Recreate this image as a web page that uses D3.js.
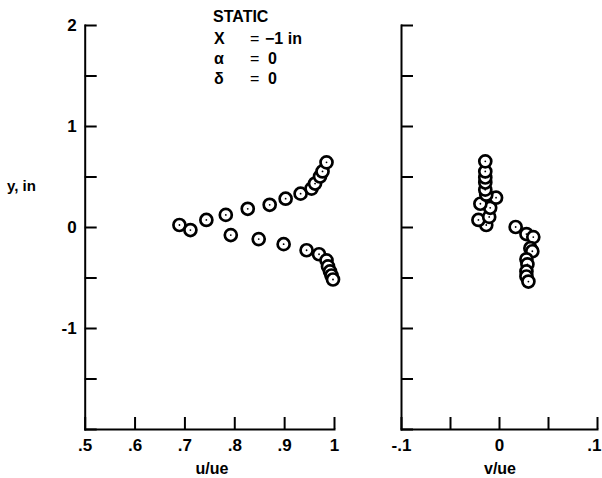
<!DOCTYPE html>
<html>
<head>
<meta charset="utf-8">
<script src="https://cdn.jsdelivr.net/npm/d3@7"></script>
<style>
  body { margin: 0; background: #fff; }
  text { font-family: "Liberation Sans", Arial, sans-serif; fill: #000; }
  .axis path, .axis line { stroke: #000; stroke-width: 2; }
  .axis text { font-size: 17px; font-weight: bold; }
</style>
</head>
<body>
<div id="chart"></div>
<script>
// left panel: u/ue vs y
var leftU = [0.690, 0.712, 0.744, 0.783, 0.827, 0.871, 0.903, 0.933, 0.955, 0.962, 0.972, 0.977, 0.985,
             0.793, 0.849, 0.899, 0.945, 0.970, 0.985, 0.988, 0.992, 0.995, 0.998];
var leftY = [0.02, -0.03, 0.07, 0.12, 0.18, 0.22, 0.28, 0.33, 0.38, 0.43, 0.50, 0.55, 0.64,
             -0.08, -0.12, -0.17, -0.23, -0.27, -0.33, -0.39, -0.44, -0.48, -0.52];
// right panel: v/ue vs y
var rightV = [-0.014, -0.014, -0.014, -0.014, -0.014, -0.013, -0.003, -0.019, -0.009, -0.010, -0.021, -0.013,
              0.017, 0.028, 0.035, 0.032, 0.034, 0.028, 0.029, 0.028, 0.028, 0.030];
var rightY = [0.65, 0.55, 0.49, 0.44, 0.37, 0.32, 0.29, 0.23, 0.19, 0.10, 0.07, 0.02,
              0.00, -0.07, -0.10, -0.21, -0.24, -0.32, -0.37, -0.44, -0.49, -0.54];

var yTicks = [-2, -1.5, -1, -0.5, 0, 0.5, 1, 1.5, 2];
var yLabels = {"2": "2", "1": "1", "0": "0", "-1": "-1"};
var uTicks = [0.5, 0.6, 0.7, 0.8, 0.9, 1];
var uLabels = [".5", ".6", ".7", ".8", ".9", "1"];
var vTicks = [-0.1, -0.05, 0, 0.05, 0.1];
var vLabels = {"-0.1": "-.1", "0": "0", "0.1": ".1"};

var legendKeys = ["X", "\u03b1", "\u03b4"];
var legendVals = ["\u22121 in", "0", "0"];

var width = 602, height = 478;
var svg = d3.select("#chart").append("svg")
    .attr("width", width)
    .attr("height", height);

var yScale = d3.scaleLinear().domain([-2, 2]).range([429, 25]);
var uScale = d3.scaleLinear().domain([0.5, 1]).range([84.7, 334]);
var vScale = d3.scaleLinear().domain([-0.1, 0.1]).range([401, 597]);

function drawPanel(xScale, xTicks, xFmt, showY) {
    var g = svg.append("g");
    g.append("g")
        .attr("class", "axis")
        .attr("transform", "translate(" + xScale.range()[0] + ",0)")
        .call(d3.axisLeft(yScale).tickValues(yTicks).tickSizeInner(-12).tickSizeOuter(0).tickPadding(8)
            .tickFormat(function(d) { return showY ? (yLabels[String(d)] || "") : ""; }));
    var xa = g.append("g")
        .attr("class", "axis")
        .attr("transform", "translate(0," + yScale(-2) + ")")
        .call(d3.axisBottom(xScale).tickValues(xTicks).tickSizeInner(-12).tickSizeOuter(0).tickPadding(10)
            .tickFormat(xFmt));
    g.selectAll(".domain").attr("stroke-linecap", "square");
    return xa;
}

drawPanel(uScale, uTicks, function(d, i) { return uLabels[i]; }, true);
var vAxis = drawPanel(vScale, vTicks, function(d) { return vLabels[String(+d.toFixed(2))] || ""; }, false);
// last label sits against the page edge
vAxis.selectAll(".tick text").filter(function(d) { return d === 0.1; })
    .attr("text-anchor", "end").attr("x", 4);

// points, drawn from the centre outward so outer ones overlap
function drawPoints(xs, ys, xScale) {
    var pts = xs.map(function(x, i) { return {x: x, y: ys[i]}; });
    pts.sort(function(a, b) { return Math.abs(a.y) - Math.abs(b.y); });
    var g = svg.append("g");
    var p = g.selectAll("g.pt").data(pts).enter().append("g")
        .attr("transform", function(d) { return "translate(" + xScale(d.x) + "," + yScale(d.y) + ")"; });
    p.append("circle").attr("r", 6)
        .attr("fill", "#fff").attr("stroke", "#000").attr("stroke-width", 2.7);
    p.append("circle").attr("r", 0.9).attr("fill", "#000");
}
drawPoints(leftU, leftY, uScale);
drawPoints(rightV, rightY, vScale);

// axis titles
svg.append("text").attr("x", 7).attr("y", 191)
    .style("font-size", "15px").style("font-weight", "bold").text("y, in");
svg.append("text").attr("x", 212).attr("y", 474).attr("text-anchor", "middle")
    .style("font-size", "16px").style("font-weight", "bold").text("u/ue");
svg.append("text").attr("x", 500).attr("y", 474).attr("text-anchor", "middle")
    .style("font-size", "16px").style("font-weight", "bold").text("v/ue");

// legend block
var leg = svg.append("g").style("font-weight", "bold").style("font-size", "16px");
leg.append("text").attr("x", 213).attr("y", 22).text("STATIC");
legendKeys.forEach(function(k, i) {
    var y = 44 + i * 20;
    leg.append("text").attr("x", 214).attr("y", y).text(k);
    leg.append("text").attr("x", 250).attr("y", y).style("font-weight", "normal").text("=");
    leg.append("text").attr("x", i === 0 ? 265 : 268).attr("y", y).text(legendVals[i]);
});
</script>
</body>
</html>
